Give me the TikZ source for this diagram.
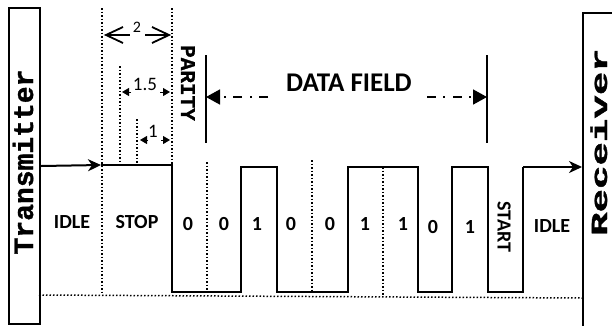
\documentclass[tikz,border=0pt]{standalone}
\usepackage{fontspec}
\setmainfont{Carlito}
\newfontfamily\codefont{Liberation Mono Bold}[FakeBold=1.2]
\usetikzlibrary{arrows.meta}

\tikzset{
  unitbox/.style={draw, line width=2pt, inner sep=0pt, anchor=north west},
  sig/.style={line width=2pt, line join=miter},
  sigarrow/.style={sig, -{Stealth[length=13pt, width=12pt, inset=4pt]}},
  gridline/.style={line width=1.5pt, dotted},
  bracketline/.style={line width=1.6pt},
  fieldarrow/.style={line width=1.6pt, dash pattern=on 9pt off 7pt on 2pt off 8pt,
    -{Triangle[length=14pt, width=15pt]}},
  chevron/.style={line width=1.8pt, line join=miter},
  dimsmall/.style={line width=1pt, -{Triangle[length=7pt, width=8pt]}},
  bitlbl/.style={font=\bfseries\fontsize{20}{22}\selectfont, inner sep=0pt},
  dimlbl/.style={font=\fontsize{19}{21}\selectfont, inner sep=0pt},
  monolbl/.style={inner sep=0pt, anchor=base},
}

\begin{document}
\begin{tikzpicture}[x=1pt, y=-1pt]
\useasboundingbox (0,0) rectangle (612,325);
\clip (0,0) rectangle (612,325);

% end stations
\node[unitbox, minimum width=31pt, minimum height=316pt] (tx) at (8,7) {};
\node[unitbox, minimum width=60pt, minimum height=330pt] (rx) at (582,12) {};
\node[monolbl, rotate=90, font=\codefont\fontsize{28}{30}\selectfont] (txlbl) at (33,162) {Transmitter};
\node[monolbl, rotate=90, font=\codefont\fontsize{23}{25}\selectfont] (rxlbl) at (607,142) {\scalebox{1.7}[1]{Receiver}};

% bit cell boundaries
\coordinate (idleEnd) at (102,165);
\coordinate (stopEnd) at (172,165);
\draw[gridline] (102,8) -- (102,295);
\draw[gridline] (172,8) -- (stopEnd);
\draw[gridline] (207,162) -- (207,292);
\draw[gridline] (312,160) -- (312,292);
\draw[gridline] (383,167) -- (383,296);
\draw[gridline] (120,66) -- (120,165);
\draw[gridline] (137,119) -- (137,165);
\draw[gridline] (39,295) -- (582,298);

% waveform
\coordinate (startHi) at (523,167);
\draw[sigarrow] (tx.east) -- (101,165);
\draw[sig] (101,165) -- (stopEnd) -- (172,292) -- (241,292) -- (241,167) -- (277,167)
  -- (277,292) -- (348,292) -- (348,167) -- (418,167) -- (418,292) -- (452,292)
  -- (452,167) -- (488,167) -- (488,292) -- (523,292) -- (startHi);
\draw[sigarrow] (startHi) -- (rx.west |- startHi);

% cell labels
\node[bitlbl] (idleA) at (72,222) {IDLE};
\node[bitlbl] (stop) at (137,222) {STOP};
\node[bitlbl] (b1) at (188,224) {0};
\node[bitlbl] (b2) at (224,224) {0};
\node[bitlbl] (b3) at (257,224) {1};
\node[bitlbl] (b4) at (291,224) {0};
\node[bitlbl] (b5) at (330,224) {0};
\node[bitlbl] (b6) at (365,224) {1};
\node[bitlbl] (b7) at (403,224) {1};
\node[bitlbl] (b8) at (433,227) {0};
\node[bitlbl] (b9) at (470,227) {1};
\node[bitlbl, rotate=-90] (start) at (504,227) {START};
\node[bitlbl] (idleB) at (552,226) {IDLE};

% parity label
\node[monolbl, rotate=-90, font=\codefont\fontsize{21}{23}\selectfont] (parity) at (181,83) {PARITY};

% data field bracket
\coordinate (dfLtop) at (206,55);
\coordinate (dfLbot) at (206,143);
\coordinate (dfRtop) at (487,55);
\coordinate (dfRbot) at (487,143);
\draw[bracketline] (dfLtop) -- (dfLbot);
\draw[bracketline] (dfRtop) -- (dfRbot);
\node[font=\bfseries\fontsize{27}{29}\selectfont, inner sep=0pt] (df) at (349,83) {DATA FIELD};
\coordinate (dfLend) at (268,97);
\coordinate (dfRend) at (427,97);
\draw[fieldarrow] (dfLend) -- (dfLtop |- dfLend);
\draw[fieldarrow] (dfRend) -- (dfRtop |- dfRend);

% stop-bit length markers
\coordinate (c2L) at (106,35);
\coordinate (c2R) at (169,35);
\draw[chevron] (123,27) -- (c2L) -- (123,43);
\draw[chevron] (c2L) -- (130,35);
\draw[chevron] (152,27) -- (c2R) -- (152,43);
\draw[chevron] (145,35) -- (c2R);
\node[font=\fontsize{16}{18}\selectfont, inner sep=0pt] (d2) at (137,27) {2};
\draw[dimsmall] (131,92) -- (122,92);
\draw[dimsmall] (160,92) -- (170,92);
\node[dimlbl] (d15) at (145,84) {1.5};
\draw[dimsmall] (148,140) -- (140,140);
\draw[dimsmall] (161,140) -- (170,140);
\node[dimlbl] (d1) at (153,131) {1};
\end{tikzpicture}
\end{document}
